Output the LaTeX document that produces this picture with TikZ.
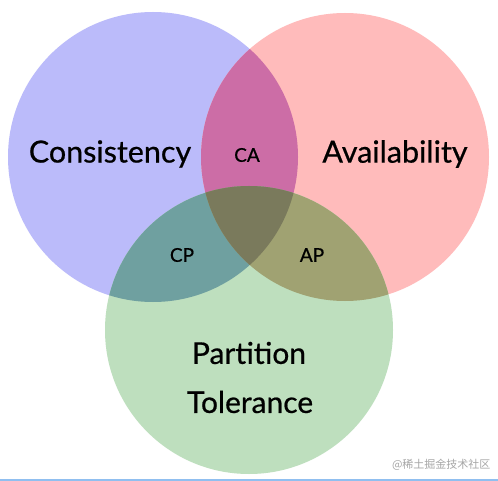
\documentclass[tikz,border=0pt]{standalone}
\usepackage{fontspec,xcolor}
\setmainfont{Lato}[FakeBold=0.6]
\newfontfamily\cjkfont{Noto Sans CJK SC}
\definecolor{consblue}{HTML}{BBBBFA}
\definecolor{availred}{HTML}{FFBBBB}
\definecolor{partgreen}{HTML}{BEDFBE}
\definecolor{cafill}{HTML}{CC6DA6}
\definecolor{cpfill}{HTML}{6FA0A0}
\definecolor{apfill}{HTML}{A0A272}
\definecolor{capfill}{HTML}{7A7A5C}
\definecolor{edgeblue}{HTML}{90BFF0}
\newcommand{\consC}{(153,157) circle (145pt)}
\newcommand{\availC}{(345,157) circle (144pt)}
\newcommand{\partC}{(249,330) circle (144pt)}

\begin{document}
\begin{tikzpicture}[x=1pt,y=-1pt]
 \useasboundingbox (0,0) rectangle (498,481);
 \fill[white] (0,0) rectangle (498,481);
 % the three sets
 \fill[consblue] \consC;
 \fill[availred] \availC;
 \fill[partgreen] \partC;
 % pairwise overlaps
 \begin{scope} \clip \consC; \fill[cafill] \availC; \end{scope}
 \begin{scope} \clip \consC; \fill[cpfill] \partC; \end{scope}
 \begin{scope} \clip \availC; \fill[apfill] \partC; \end{scope}
 \begin{scope} \clip \consC; \clip \availC; \fill[capfill] \partC; \end{scope}
 % labels
 \node[font=\fontsize{30.5}{30.5}\selectfont] (cons) at (110,154) {Consistency};
 \node[font=\fontsize{30.5}{30.5}\selectfont] (avail) at (395,154) {Availability};
 \node[font=\fontsize{30}{30}\selectfont] (part) at (249,353) {Partition};
 \node[font=\fontsize{30}{30}\selectfont] (tol) at (250,402) {Tolerance};
 \node[font=\fontsize{19}{19}\selectfont] (ca) at (247,155) {CA};
 \node[font=\fontsize{19}{19}\selectfont] (cp) at (182,255) {CP};
 \node[font=\fontsize{19}{19}\selectfont] (ap) at (312,255) {AP};
 \node[gray!70,font=\cjkfont\fontsize{11}{11}\selectfont,anchor=east] (mark) at (494,465) {@稀土掘金技术社区};
 \draw[edgeblue,line width=1.5pt] (0,480) -- (498,480);
\end{tikzpicture}
\end{document}
